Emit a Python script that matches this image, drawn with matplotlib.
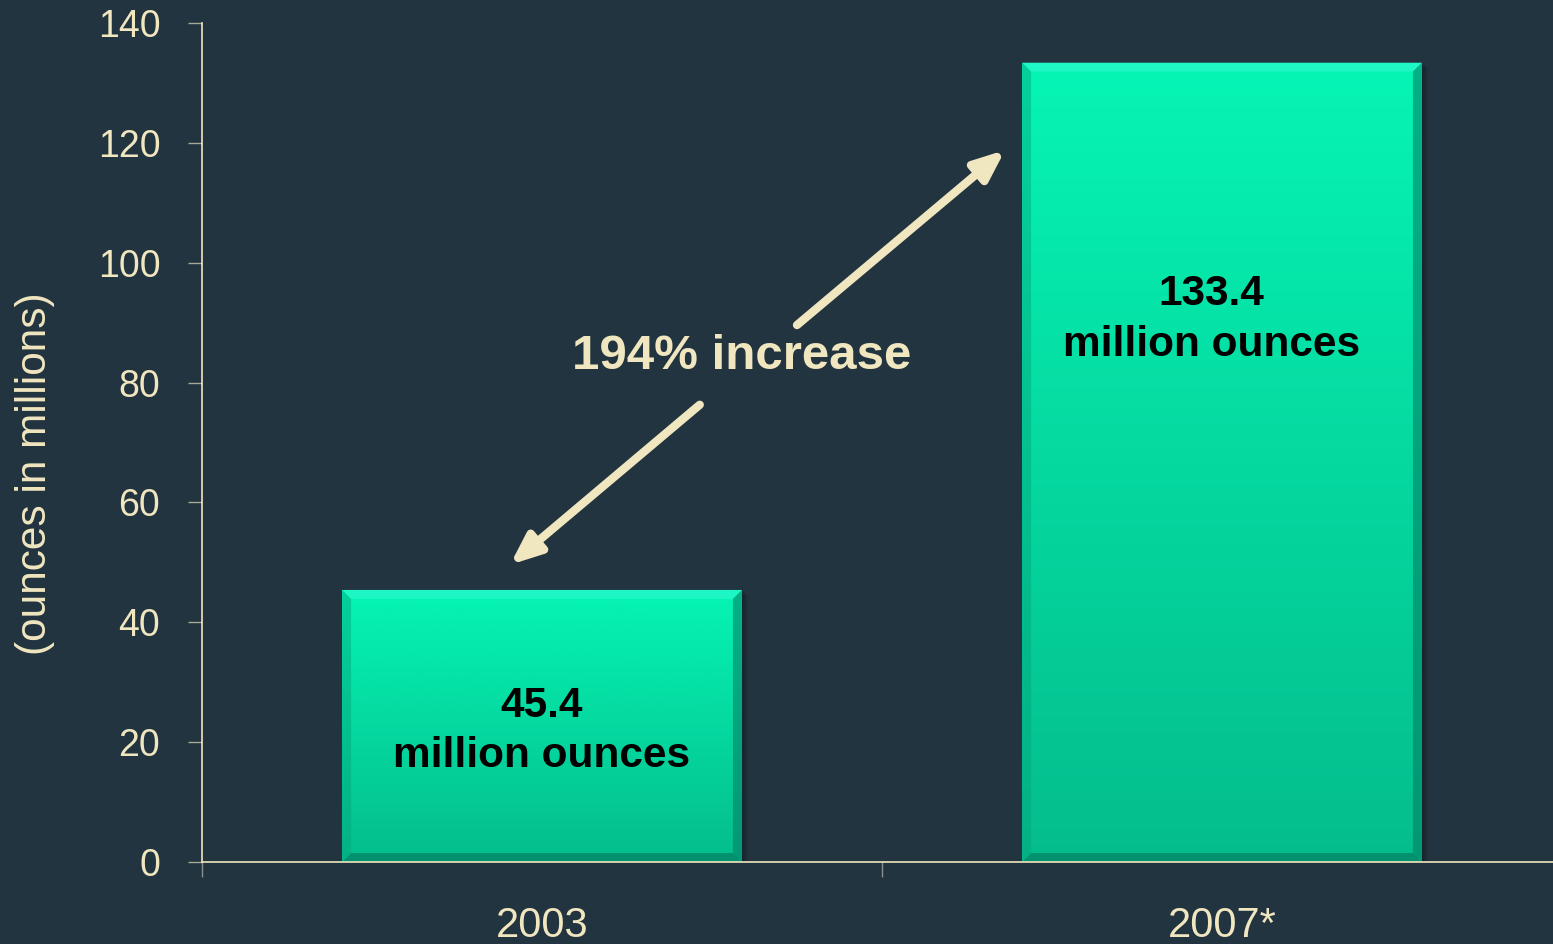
import numpy as np
import matplotlib
matplotlib.use('Agg')
import matplotlib.pyplot as plt
from matplotlib.patches import Polygon
from matplotlib.colors import LinearSegmentedColormap

plt.rcParams['font.family'] = ['Liberation Sans', 'DejaVu Sans']

# data
years = ['2003', '2007*']
ounces = [45.4, 133.4]
value_labels = ['45.4', '133.4']
unit_label = 'million ounces'
yticks = [0, 20, 40, 60, 80, 100, 120, 140]
note = '194% increase'

bg = '#22343f'
cream = '#f0e6c0'
grad = LinearSegmentedColormap.from_list('g', ['#04bd8d', '#05d9a0', '#05f5b5'])

fig = plt.figure(figsize=(15.53, 9.44), dpi=100, facecolor=bg)
ax = fig.add_axes([202/1553, 82/944, 1360/1553, 839/944])
ax.set_facecolor(bg)
ax.set_xlim(0, 2)
ax.set_ylim(0, 140)

xpos = np.arange(len(years)) + 0.5
width = 0.588
bars = ax.bar(xpos, ounces, width, color='none', edgecolor='none', zorder=3)

# px -> data sizes for bevel
bx = 9 / 680
by = 9 / 5.993

for b in bars:
    x0, y0 = b.get_x(), b.get_y()
    w, h = b.get_width(), b.get_height()
    x1, y1 = x0 + w, y0 + h
    # soft drop shadow
    for k, a in [(3, 0.25), (5, 0.15), (7, 0.08)]:
        ax.add_patch(Polygon([(x1, y0 - k*0.1), (x1 + k/680, y0 - k*0.1),
                              (x1 + k/680, y1 - k*0.12), (x1, y1 - k*0.12)],
                             closed=True, color='#0c171c', alpha=a, zorder=2, lw=0))
    img = ax.imshow(np.linspace(0, 1, 256)[::-1].reshape(-1, 1), cmap=grad, aspect='auto',
                    extent=[x0, x1, y0, y1], zorder=3, interpolation='bicubic')
    img.set_clip_path(b)
    # bevels
    ax.add_patch(Polygon([(x0, y1), (x1, y1), (x1 - bx, y1 - by), (x0 + bx, y1 - by)],
                         closed=True, color='#30fad2', alpha=0.6, lw=0, zorder=4))
    ax.add_patch(Polygon([(x1, y1), (x1, y0), (x1 - bx, y0 + by), (x1 - bx, y1 - by)],
                         closed=True, color='#027a60', alpha=0.55, lw=0, zorder=4))
    ax.add_patch(Polygon([(x0, y0), (x1, y0), (x1 - bx, y0 + by), (x0 + bx, y0 + by)],
                         closed=True, color='#026f58', alpha=0.55, lw=0, zorder=4))
    ax.add_patch(Polygon([(x0, y1), (x0, y0), (x0 + bx, y0 + by), (x0 + bx, y1 - by)],
                         closed=True, color='#03a37c', alpha=0.45, lw=0, zorder=4))

label_y = [(26.0, 17.7), (94.7, 86.3)]
label_dx = [0.0, -0.016]
for x, dx, v, (yv, yu) in zip(xpos, label_dx, value_labels, label_y):
    ax.text(x + dx, yv, v, ha='center', va='center', fontsize=30.5,
            fontweight='bold', color='black', zorder=5)
    ax.text(x + dx, yu, unit_label, ha='center', va='center', fontsize=30.5,
            fontweight='bold', color='black', zorder=5)

# increase annotation
ax.text(0.794, 84.3, note, ha='center', va='center', fontsize=35.5, fontweight='bold', color=cream)
ax.annotate('', xy=(0.453, 49.6), xytext=(0.732, 76.3),
            arrowprops=dict(arrowstyle='-|>,head_length=1.8,head_width=0.75', color=cream, lw=6,
                            shrinkA=0, shrinkB=0))
ax.annotate('', xy=(1.181, 118.8), xytext=(0.875, 89.6),
            arrowprops=dict(arrowstyle='-|>,head_length=1.8,head_width=0.75', color=cream, lw=6,
                            shrinkA=0, shrinkB=0))

# axes styling
for s in ['top', 'right']:
    ax.spines[s].set_visible(False)
ax.spines['left'].set_color(cream)
ax.spines['bottom'].set_color(cream)
ax.spines['left'].set_linewidth(1.2)
ax.spines['bottom'].set_linewidth(1.2)
ax.spines['bottom'].set_zorder(6)

ax.set_yticks(yticks)
ax.tick_params(axis='y', colors='#a8a898', labelcolor=cream, labelsize=27, length=10, width=1, pad=20)
ax.set_xticks([0, 1, 2])
ax.set_xticklabels([])
ax.tick_params(axis='x', which='major', colors='#8a9090', length=11, width=1, direction='out')
ax.set_xticks(xpos, minor=True)
ax.set_xticklabels(years, minor=True)
ax.tick_params(axis='x', which='minor', length=0, labelcolor=cream, labelsize=30, pad=32)

fig.text(35/1553, 470/944, '(ounces in millions)', rotation=90, ha='center', va='center',
         fontsize=30.5, color=cream)

fig.savefig('out.png', dpi=100, facecolor=bg)
